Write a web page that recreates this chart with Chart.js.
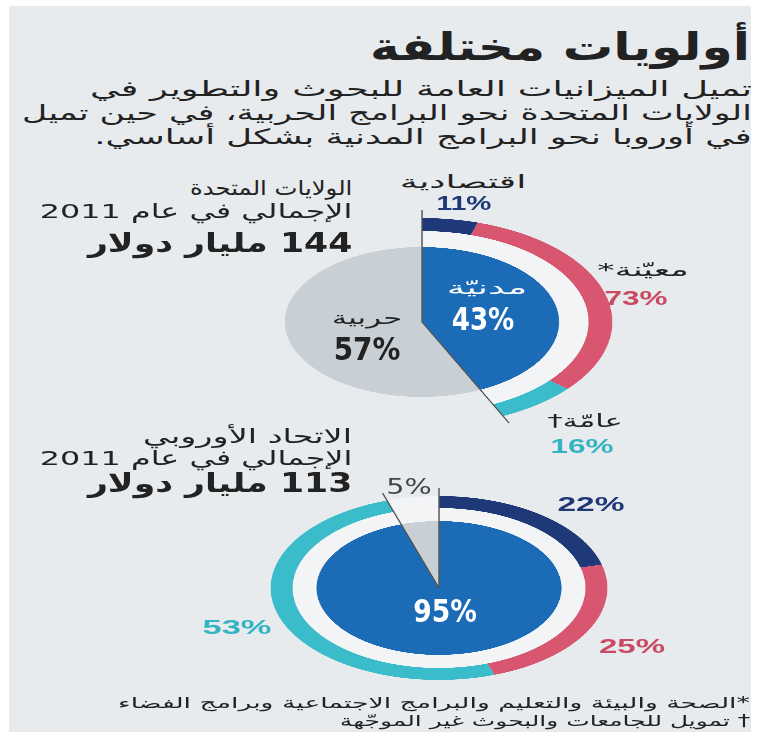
<!DOCTYPE html>
<html lang="ar" dir="rtl">
<head>
<meta charset="utf-8">
<script src="https://cdn.jsdelivr.net/npm/chart.js@4.4.1/dist/chart.umd.min.js"></script>
<style>
  html, body { margin: 0; padding: 0; background: #fff; }
  body { width: 770px; height: 742px; position: relative; overflow: hidden; font-family: "DejaVu Sans", sans-serif; color: #222; }
  .panel { position: absolute; left: 9px; top: 6px; width: 742px; height: 726px; background: #e8ebee; }
  .t { position: absolute; white-space: nowrap; direction: rtl; line-height: 1; }
  .pct { font-family: "Liberation Sans", "DejaVu Sans", sans-serif; font-weight: bold; direction: ltr; }
  .big { font-family: "DejaVu Sans", sans-serif; font-weight: bold; direction: ltr; }
  .wrap { position: absolute; transform-origin: 50% 50%; }
</style>
</head>
<body>
<div class="panel"></div>
<div class="wrap" id="usWrap"><canvas id="usChart"></canvas></div>
<div class="wrap" id="euWrap"><canvas id="euChart"></canvas></div>
<div id="texts"></div>

<script>
// ----- data -----
const usShareLabels = ['مدنيّة', 'حربية'];
const usShares = [43, 57];                 // civilian, military (%)
const usCivilLabels = ['اقتصادية', 'معيّنة*', 'عامّة†'];
const usCivilSplit = [11, 73, 16];          // split of the civilian part (%)

const euShares = [95, 5];                   // civilian, military (%)
const euCivilSplit = [22, 25, 53];          // split of the civilian part (%)

const COL = {
  blue: '#1b6bb6', grey: '#c8cfd5', navy: '#1f3877', red: '#d8566f',
  cyan: '#3bbccb', light: '#f3f4f6', none: 'rgba(0,0,0,0)'
};

const STRETCH = 1.83;   // the original artwork is stretched sideways

// outer ring: civil split scaled into the civilian share, rest left open
function ringData(shares, split) {
  return split.map(v => v * shares[0] / 100).concat(shares.slice(1));
}

// thin radial rules along the edges of one pie slice
const edgeLines = {
  id: 'edgeLines',
  afterDatasetsDraw(chart, args, opts) {
    const meta = chart.getDatasetMeta(chart.data.datasets.length - 1);
    const arc = meta.data[opts.slice];
    if (!arc) return;
    const ctx = chart.ctx;
    const outer = chart.getDatasetMeta(0).data[0].outerRadius + opts.ext;
    ctx.save();
    ctx.strokeStyle = '#555';
    ctx.lineWidth = 0.8;
    [arc.startAngle, arc.endAngle].forEach(a => {
      ctx.beginPath();
      ctx.moveTo(arc.x, arc.y);
      ctx.lineTo(arc.x + Math.cos(a) * outer, arc.y + Math.sin(a) * outer);
      ctx.stroke();
    });
    ctx.restore();
  }
};

function makeChart(id, wrapId, cx, cy, R, weights, datasets, slice) {
  const pad = 14;
  const size = 2 * (R + pad);
  const wrap = document.getElementById(wrapId);
  wrap.style.left = (cx - size / 2) + 'px';
  wrap.style.top = (cy - size / 2) + 'px';
  wrap.style.width = size + 'px';
  wrap.style.height = size + 'px';
  wrap.style.transform = 'scaleX(' + STRETCH + ')';
  datasets.forEach((d, i) => { d.weight = weights[i]; });
  return new Chart(document.getElementById(id), {
    type: 'pie',
    data: { datasets },
    options: {
      responsive: true, maintainAspectRatio: false, animation: false,
      devicePixelRatio: 3, events: [],
      layout: { padding: pad },
      elements: { arc: { borderWidth: 0, hoverBorderWidth: 0, hoverOffset: 0, offset: 0 } },
      plugins: { legend: { display: false }, tooltip: { enabled: false }, edgeLines: { slice, ext: 8 } }
    },
    plugins: [edgeLines]
  });
}

// United States
makeChart('usChart', 'usWrap', 422, 322, 104, [13, 16, 75], [
  { data: ringData(usShares, usCivilSplit), backgroundColor: [COL.navy, COL.red, COL.cyan, COL.none] },
  { data: usShares, backgroundColor: [COL.light, COL.none] },
  { data: usShares, backgroundColor: [COL.blue, COL.grey] }
], 0);

// European Union
makeChart('euChart', 'euWrap', 439, 588, 92, [12, 13, 67], [
  { data: ringData(euShares, euCivilSplit), backgroundColor: [COL.navy, COL.red, COL.cyan, COL.light] },
  { data: euShares, backgroundColor: [COL.light, COL.light] },
  { data: euShares, backgroundColor: [COL.blue, COL.grey] }
], 1);

// ----- text -----
// right-anchored lines: [text, rightEdge, centerY, width, style]
const rightLines = [
  ['أولويات مختلفة', 750, 47, 380, 'font-size:38px;font-weight:bold'],
  ['تميل الميزانيات العامة للبحوث والتطوير في', 752, 89, 662, 'font-size:21px'],
  ['الولايات المتحدة نحو البرامج الحربية، في حين تميل', 752, 113, 730, 'font-size:21px'],
  ['في أوروبا نحو البرامج المدنية بشكل أساسي.', 752, 137, 658, 'font-size:21px'],
  ['الولايات المتحدة', 352, 188, 162, 'font-size:20px'],
  ['الإجمالي في عام 2011', 352, 211, 312, 'font-size:20px'],
  ['144 مليار دولار', 352, 243, 264, 'font-size:26px;font-weight:bold'],
  ['الاتحاد الأوروبي', 352, 436, 209, 'font-size:20px'],
  ['الإجمالي في عام 2011', 352, 458, 312, 'font-size:20px'],
  ['113 مليار دولار', 352, 483, 264, 'font-size:26px;font-weight:bold'],
  ['*الصحة والبيئة والتعليم والبرامج الاجتماعية وبرامج الفضاء', 750, 703, 632, 'font-size:15px'],
  ['† تمويل للجامعات والبحوث غير الموجّهة', 750, 721, 410, 'font-size:15px']
];

// centred labels: [text, cx, cy, width, style, class]
const labelSpecs = [
  [usCivilLabels[0], 463, 182, 127, 'font-size:18px;color:#222'],
  [usCivilSplit[0] + '%', 464, 202, 55, 'font-size:21px;color:' + COL.navy, 'pct'],
  [usCivilLabels[1], 643, 270, 92, 'font-size:18px;color:#222'],
  [usCivilSplit[1] + '%', 636, 297, 63, 'font-size:21px;color:#c94a63', 'pct'],
  [usCivilLabels[2], 585, 421, 76, 'font-size:18px;color:#222'],
  [usCivilSplit[2] + '%', 582, 445, 63, 'font-size:21px;color:#36b3c2', 'pct'],
  [usShareLabels[0], 487, 288, 80, 'font-size:18px;color:#fff'],
  [usShares[0] + '%', 483, 319, 63, 'font-size:32px;color:#fff', 'big'],
  [usShareLabels[1], 367, 318, 70, 'font-size:18px;color:#222'],
  [usShares[1] + '%', 367, 349, 67, 'font-size:32px;color:#222', 'big'],
  [euShares[1] + '%', 409, 487, 45, 'font-size:21px;color:#444;direction:ltr'],
  [euCivilSplit[0] + '%', 591, 503, 67, 'font-size:21px;color:' + COL.navy, 'pct'],
  [euShares[0] + '%', 445, 611, 64, 'font-size:32px;color:#fff', 'big'],
  [euCivilSplit[2] + '%', 237, 626, 69, 'font-size:21px;color:#36b3c2', 'pct'],
  [euCivilSplit[1] + '%', 632, 645, 66, 'font-size:21px;color:#c94a63', 'pct']
];

const box = document.getElementById('texts');
rightLines.forEach(([text, right, cy, w, style]) => {
  const el = document.createElement('div');
  el.className = 't';
  el.style.cssText = 'right:' + (770 - right) + 'px;top:' + cy + 'px;' + style;
  el.textContent = text;
  box.appendChild(el);
  const s = w / el.offsetWidth;
  el.style.transformOrigin = '100% 50%';
  el.style.transform = 'translateY(-50%) scaleX(' + s + ')';
});
labelSpecs.forEach(([text, x, y, w, style, cls]) => {
  const el = document.createElement('div');
  el.className = 't' + (cls ? ' ' + cls : '');
  el.style.cssText = 'left:' + x + 'px;top:' + y + 'px;' + style;
  el.textContent = text;
  box.appendChild(el);
  const s = w / el.offsetWidth;
  el.style.transform = 'translate(-50%, -50%) scaleX(' + s + ')';
});
</script>
</body>
</html>
